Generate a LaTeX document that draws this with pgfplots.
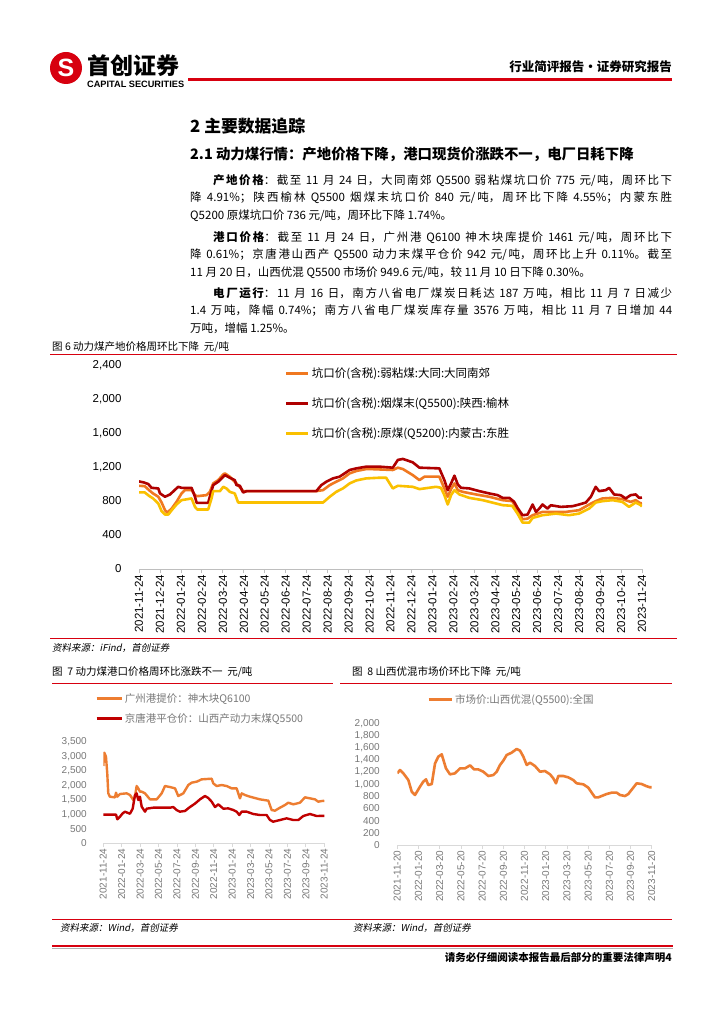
\documentclass[border=0pt]{standalone}
\usepackage{fontspec}
\setmainfont{Liberation Serif}
\newfontfamily\cjk{Noto Sans CJK SC}
\newfontfamily\cjkit[FakeSlant=0.2]{Noto Sans CJK SC}
\newfontfamily\lsans{Liberation Sans}
\usepackage{pgfplots}
\pgfplotsset{compat=1.18}
\XeTeXlinebreaklocale "zh"
\XeTeXlinebreakskip=0pt plus 1pt

\definecolor{hdrred}{RGB}{215,0,15}
\definecolor{c1orange}{RGB}{240,120,32}
\definecolor{c1red}{RGB}{175,0,0}
\definecolor{c1yellow}{RGB}{250,192,0}
\definecolor{xlorange}{RGB}{237,125,49}
\definecolor{xlred}{RGB}{192,0,0}
\definecolor{axgray}{RGB}{190,190,190}
\definecolor{txtgray}{RGB}{120,120,120}

\pgfplotsset{
  pagechart/.style={
    scale only axis, anchor=south west, xmin=0, xmax=24,
    axis x line*=bottom, axis y line*=left,
    y axis line style={draw=none}, ytick style={draw=none},
    x axis line style={draw=axgray, line width=0.8pt},
    xtick style={draw=axgray, line width=0.8pt},
    tick align=outside, major tick length=4pt,
    legend cell align=left,
    legend style={draw=none, fill=none, inner sep=0pt},
    every axis plot/.append style={no marks, line join=round, line width=2.6pt},
  },
}

\begin{document}
\begin{tikzpicture}
\begin{scope}[x=1pt,y=-1pt]
\fill[white] (0,0) rectangle (724,1024);
% header
\fill[hdrred] (66,68) circle (16);
\node[text=white, font=\lsans\bfseries\fontsize{25}{25}\selectfont] at (66,68) {S};
\node[anchor=west, inner sep=0, font=\cjk\bfseries\fontsize{23}{23}\selectfont] at (87,66) {首创证券};
\node[anchor=west, inner sep=0, font=\lsans\bfseries\fontsize{9.2}{10}\selectfont] at (87,84) {CAPITAL SECURITIES};
\draw[hdrred, line width=3pt] (188,80) -- (672,80);
\node[anchor=east, inner sep=0, font=\cjk\bfseries\fontsize{12.5}{13}\selectfont] at (672,67) {行业简评报告·证券研究报告};
% headings
\node[anchor=west, inner sep=0, font=\cjk\bfseries\fontsize{16.8}{17}\selectfont] at (190,126) {2 主要数据追踪};
\node[anchor=west, inner sep=0, font=\cjk\bfseries\fontsize{14.4}{15}\selectfont] at (190,154) {2.1 动力煤行情：产地价格下降，港口现货价涨跌不一，电厂日耗下降};
% paragraphs
\node[anchor=north west, inner sep=0, text width=482pt, align=justify, font=\cjk\fontsize{11.5}{17.5}\selectfont] at (190,174)
{\hspace*{2em}\textbf{产地价格}：截至 11 月 24 日，大同南郊 Q5500 弱粘煤坑口价 775 元/吨，周环比下\linebreak 降 4.91\%；陕西榆林 Q5500 烟煤末坑口价 840 元/吨，周环比下降 4.55\%；内蒙东胜\linebreak Q5200 原煤坑口价 736 元/吨，周环比下降 1.74\%。};
\node[anchor=north west, inner sep=0, text width=482pt, align=justify, font=\cjk\fontsize{11.5}{17.5}\selectfont] at (190,231)
{\hspace*{2em}\textbf{港口价格}：截至 11 月 24 日，广州港 Q6100 神木块库提价 1461 元/吨，周环比下\linebreak 降 0.61\%；京唐港山西产 Q5500 动力末煤平仓价 942 元/吨，周环比上升 0.11\%。截至\linebreak 11 月 20 日，山西优混 Q5500 市场价 949.6 元/吨，较 11 月 10 日下降 0.30\%。};
\node[anchor=north west, inner sep=0, text width=482pt, align=justify, font=\cjk\fontsize{11.5}{17.5}\selectfont] at (190,287)
{\hspace*{2em}\textbf{电厂运行}：11 月 16 日，南方八省电厂煤炭日耗达 187 万吨，相比 11 月 7 日减少\linebreak 1.4 万吨，降幅 0.74\%；南方八省电厂煤炭库存量 3576 万吨，相比 11 月 7 日增加 44\linebreak 万吨，增幅 1.25\%。};
% figure 6 frame
\node[anchor=west, inner sep=0, font=\cjk\fontsize{10.5}{11}\selectfont] at (52,347) {图 6 动力煤产地价格周环比下降 \ 元/吨};
\draw[hdrred, line width=0.9pt] (50,354) -- (677,354);
\draw[hdrred, line width=0.9pt] (50,638) -- (677,638);
\node[anchor=west, inner sep=0, font=\cjkit\fontsize{9.5}{10}\selectfont] at (52,648) {资料来源：iFind，首创证券};
% figure 7 / 8 frames
\node[anchor=west, inner sep=0, font=\cjk\fontsize{10.5}{11}\selectfont] at (52,672) {图 \ 7 动力煤港口价格周环比涨跌不一 \ 元/吨};
\draw[hdrred, line width=0.9pt] (52,683) -- (333,683);
\node[anchor=west, inner sep=0, font=\cjk\fontsize{10.5}{11}\selectfont] at (352,672) {图 \ 8 山西优混市场价环比下降 \ 元/吨};
\draw[hdrred, line width=0.9pt] (340,683) -- (672,683);
\draw[hdrred, line width=0.9pt] (52,919) -- (672,919);
\node[anchor=west, inner sep=0, font=\cjkit\fontsize{9.5}{10}\selectfont] at (60,928) {资料来源：Wind，首创证券};
\node[anchor=west, inner sep=0, font=\cjkit\fontsize{9.5}{10}\selectfont] at (353,928) {资料来源：Wind，首创证券};
% footer
\draw[hdrred, line width=2.2pt] (52,946) -- (673,946);
\draw[gray!60, line width=0.5pt] (52,948.5) -- (673,948.5);
\node[anchor=east, inner sep=0, font=\cjk\bfseries\fontsize{10.5}{11}\selectfont] at (672,957) {请务必仔细阅读本报告最后部分的重要法律声明4};
\end{scope}

% ---------------- figure 6 ----------------
\begin{axis}[pagechart,
  at={(139pt,-569pt)}, width=503pt, height=204pt,
  ymin=0, ymax=2400,
  xtick={0,...,24},
  xticklabels={2021-11-24,2021-12-24,2022-01-24,2022-02-24,2022-03-24,2022-04-24,2022-05-24,2022-06-24,2022-07-24,2022-08-24,2022-09-24,2022-10-24,2022-11-24,2022-12-24,2023-01-24,2023-02-24,2023-03-24,2023-04-24,2023-05-24,2023-06-24,2023-07-24,2023-08-24,2023-09-24,2023-10-24,2023-11-24},
  ytick={0,400,...,2400},
  yticklabels={0,400,800,{1,200},{1,600},{2,000},{2,400}},
  xticklabel style={rotate=90, anchor=east, inner sep=1.5pt, font=\lsans\fontsize{11.5}{12}\selectfont},
  yticklabel style={font=\lsans\fontsize{11.5}{12}\selectfont, xshift=-10pt},
  legend style={at={(0.29,0.995)}, anchor=north west, row sep=14.5pt,
    font=\cjk\fontsize{11.5}{12}\selectfont},
  legend image code/.code={\draw[#1, line width=2.8pt] (0pt,0pt) -- (22pt,0pt);},
]
\addplot[c1orange] coordinates {
(0,979)(0.27,975)(0.48,928)(0.67,889)(0.92,850)(1.08,782)(1.24,692)(1.35,664)(1.56,711)(1.79,790)
(2.03,889)(2.19,928)(2.51,928)(2.67,869)(2.78,857)(3.22,869)(3.38,908)(3.54,1007)(3.78,1046)(4.02,1113)
(4.1,1125)(4.33,1086)(4.65,1007)(4.97,916)(8.46,916)(8.78,928)(9.1,987)(9.41,1027)(9.73,1066)(10.05,1125)
(10.37,1153)(10.84,1176)(11.0,1176)(12.11,1165)(12.35,1192)(12.59,1176)(13.06,1105)(13.38,1046)(13.62,1086)(14.33,1086)
(14.57,948)(14.73,850)(14.89,940)(15.05,1007)(15.21,928)(15.44,908)(16.08,877)(16.71,850)(17.35,810)(17.81,798)
(18.06,692)(18.3,585)(18.54,593)(18.78,633)(19.25,672)(19.73,672)(20.37,672)(21.0,692)(21.48,759)(21.79,798)
(22.11,830)(22.59,837)(23.06,822)(23.46,790)(23.7,810)(23.94,771)(24,775)
};
\addlegendentry{坑口价(含税):弱粘煤:大同:大同南郊}
\addplot[c1red] coordinates {
(0,1030)(0.21,1020)(0.44,1000)(0.6,955)(0.92,948)(1.0,890)(1.24,850)(1.48,877)(1.87,967)(2.03,955)
(2.51,955)(2.67,850)(2.75,778)(3.3,778)(3.38,850)(3.54,987)(3.78,1027)(4.1,1105)(4.33,1074)(4.57,1046)
(4.65,987)(4.81,980)(4.97,900)(5.13,916)(8.46,916)(8.7,987)(8.94,1027)(9.25,1066)(9.57,1086)(9.81,1125)
(10.05,1165)(10.37,1184)(10.84,1204)(11.48,1204)(12.11,1192)(12.35,1283)(12.59,1295)(13.06,1255)(13.38,1192)(14.33,1184)
(14.57,1046)(14.73,928)(14.89,1007)(15.05,1098)(15.21,995)(15.37,955)(15.76,948)(16.24,916)(16.71,889)(17.11,869)
(17.35,837)(17.67,837)(17.9,790)(18.06,719)(18.3,633)(18.54,640)(18.78,759)(18.94,672)(19.1,711)(19.25,759)
(19.49,711)(19.65,750)(20.13,731)(20.68,739)(21.0,759)(21.32,782)(21.56,850)(21.79,967)(21.95,916)(22.27,928)
(22.43,955)(22.67,877)(22.98,869)(23.22,830)(23.46,869)(23.7,877)(23.86,837)(24,840)
};
\addlegendentry{坑口价(含税):烟煤末(Q5500):陕西:榆林}
\addplot[c1yellow] coordinates {
(0,901)(0.27,901)(0.48,861)(0.67,830)(0.92,771)(1.08,680)(1.24,641)(1.4,641)(1.56,692)(1.79,759)
(2.03,810)(2.51,830)(2.67,731)(2.78,700)(3.3,700)(3.46,830)(3.54,916)(3.86,916)(4.02,967)(4.17,948)
(4.33,908)(4.57,889)(4.73,782)(8.78,782)(9.1,850)(9.41,908)(9.73,948)(10.05,1007)(10.37,1042)(10.84,1066)
(11.48,1074)(11.79,1074)(12.11,948)(12.35,979)(13.06,967)(13.38,940)(14.17,967)(14.41,955)(14.57,869)(14.73,759)
(14.89,869)(15.05,928)(15.29,877)(15.76,837)(16.4,810)(17.35,751)(17.81,743)(18.06,652)(18.3,546)(18.62,546)
(18.78,601)(19.25,633)(19.89,652)(20.52,633)(21.0,652)(21.48,711)(21.79,782)(22.11,798)(22.59,810)(23.06,790)
(23.38,731)(23.7,782)(23.94,751)(24,736)
};
\addlegendentry{坑口价(含税):原煤(Q5200):内蒙古:东胜}
\end{axis}

% ---------------- figure 7 ----------------
\begin{axis}[pagechart,
  at={(103.3pt,-843pt)}, width=221pt, height=101pt,
  ymin=0, ymax=3500,
  xtick={0,2,...,24},
  xticklabels={2021-11-24,2022-01-24,2022-03-24,2022-05-24,2022-07-24,2022-09-24,2022-11-24,2023-01-24,2023-03-24,2023-05-24,2023-07-24,2023-09-24,2023-11-24},
  ytick={0,500,...,3500},
  yticklabels={0,500,{1,000},{1,500},{2,000},{2,500},{3,000},{3,500}},
  x axis line style={draw=gray!30, line width=0.8pt},
  xtick style={draw=gray!30, line width=0.8pt},
  xticklabel style={rotate=90, anchor=east, inner sep=1.5pt, text=txtgray, font=\lsans\fontsize{10}{10}\selectfont},
  yticklabel style={text=txtgray, font=\lsans\fontsize{10}{10}\selectfont, xshift=-9pt},
  legend style={at={(-0.038,1.50)}, anchor=north west, row sep=5pt,
    text=txtgray, font=\cjk\fontsize{10.5}{11}\selectfont},
  legend image code/.code={\draw[#1, line width=2.8pt] (0pt,0pt) -- (25pt,0pt);},
  every axis plot/.append style={line width=2.4pt},
]
\addplot[xlorange] coordinates {
(0,2670)(0.11,3130)(0.29,2990)(0.43,2414)(0.54,1721)(0.72,1605)(1.27,1582)(1.38,1744)(1.52,1605)(1.81,1698)
(2.54,1721)(2.9,1663)(3.26,1490)(3.44,1605)(3.62,1975)(3.8,1894)(3.98,1779)(4.17,1779)(4.53,1721)(4.89,1582)
(5.07,1513)(5.8,1513)(6.34,1721)(6.7,1975)(7.24,1940)(7.79,1894)(8.14,1629)(8.69,1721)(9.23,2010)(9.6,2091)
(10.14,2125)(10.68,2206)(11.77,2229)(11.94,2067)(12.31,1975)(12.85,2010)(13.4,1975)(13.94,1894)(14.48,1894)(14.66,1721)
(14.84,1548)(15.03,1721)(15.39,1663)(15.93,1605)(17.01,1513)(17.92,1467)(18.28,1143)(18.64,1120)(19.19,1224)(19.73,1317)
(20.09,1397)(20.63,1340)(21.36,1397)(21.9,1582)(22.44,1548)(22.99,1513)(23.34,1432)(23.71,1455)(24,1461)
};
\addlegendentry{广州港提价：神木块Q6100}
\addplot[xlred] coordinates {
(0,985)(1.38,985)(1.52,821)(1.81,912)(2.1,1028)(2.36,1086)(2.61,1050)(2.9,1016)(3.19,1190)(3.44,1663)
(3.62,1721)(3.8,1490)(3.98,1605)(4.17,1259)(4.53,1086)(4.71,1190)(5.43,1224)(7.24,1224)(7.6,1247)(7.96,1143)
(8.32,1086)(8.87,1110)(9.41,1247)(9.95,1363)(10.5,1513)(11.04,1629)(11.4,1560)(11.77,1432)(12.13,1247)(12.49,1340)
(13.03,1190)(13.57,1200)(14.12,1143)(14.48,1086)(14.77,970)(15.03,1086)(15.57,1086)(16.29,1005)(17.01,970)(17.74,970)
(18.1,797)(18.46,739)(19.19,797)(19.91,855)(20.63,797)(21.18,797)(21.72,936)(22.44,1005)(23.17,936)(24,942)
};
\addlegendentry{京唐港平仓价：山西产动力末煤Q5500}
\end{axis}

% ---------------- figure 8 ----------------
\begin{axis}[pagechart,
  at={(397.3pt,-845pt)}, width=254.4pt, height=121.7pt,
  ymin=0, ymax=2000,
  xtick={0,2,...,24},
  xticklabels={2021-11-20,2022-01-20,2022-03-20,2022-05-20,2022-07-20,2022-09-20,2022-11-20,2023-01-20,2023-03-20,2023-05-20,2023-07-20,2023-09-20,2023-11-20},
  ytick={0,200,...,2000},
  yticklabels={0,200,400,600,800,{1,000},{1,200},{1,400},{1,600},{1,800},{2,000}},
  x axis line style={draw=gray!30, line width=0.8pt},
  xtick style={draw=gray!30, line width=0.8pt},
  xticklabel style={rotate=90, anchor=east, inner sep=1.5pt, text=txtgray, font=\lsans\fontsize{10}{10}\selectfont},
  yticklabel style={text=txtgray, font=\lsans\fontsize{10}{10}\selectfont, xshift=-10pt},
  legend style={at={(0.117,1.257)}, anchor=north west,
    text=txtgray, font=\cjk\fontsize{10.5}{11}\selectfont},
  legend image code/.code={\draw[#1, line width=2.8pt] (0pt,0pt) -- (23pt,0pt);},
  every axis plot/.append style={line width=2.6pt},
]
\addplot[xlorange] coordinates {
(0,1178)(0.25,1232)(0.57,1178)(1.04,1068)(1.36,877)(1.67,822)(2.14,959)(2.45,1041)(2.71,1079)(2.92,986)
(3.25,1002)(3.56,1342)(3.87,1452)(4.19,1490)(4.59,1260)(4.97,1161)(5.44,1178)(5.92,1260)(6.39,1260)(6.86,1309)
(7.24,1243)(7.64,1243)(8.11,1205)(8.59,1134)(9.06,1150)(9.38,1205)(9.69,1315)(10.0,1386)(10.32,1479)(10.79,1518)
(11.26,1578)(11.58,1550)(11.89,1452)(12.21,1315)(12.52,1353)(12.99,1298)(13.46,1205)(13.93,1216)(14.41,1161)(14.72,1095)
(14.97,1014)(15.19,1134)(15.66,1134)(16.13,1112)(16.6,1068)(16.92,1014)(17.55,997)(18.02,942)(18.34,860)(18.65,783)
(18.96,783)(19.28,805)(19.75,838)(20.22,860)(20.7,860)(21.01,822)(21.48,805)(21.79,838)(22.21,931)(22.58,1014)
(23.06,1002)(23.46,970)(23.84,948)(24,950)
};
\addlegendentry{市场价:山西优混(Q5500):全国}
\end{axis}
\end{tikzpicture}
\end{document}
